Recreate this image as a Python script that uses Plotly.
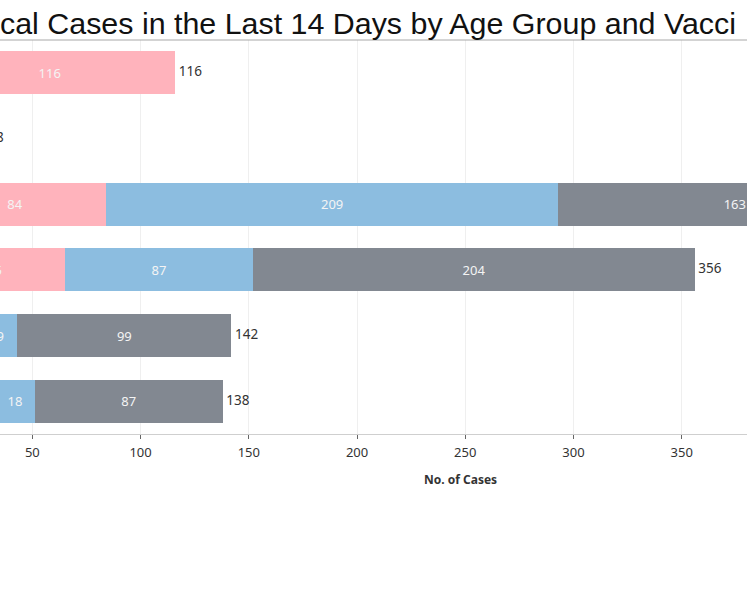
import plotly.graph_objects as go

categories = ["0-11", "12-19", "20-39", "40-59", "60-79", "80+"]
series_names = ["Unvaccinated", "Partially Vaccinated", "Fully Vaccinated"]
unvaccinated = [116, 28, 84, 65, 24, 33]
partially = [0, 0, 209, 87, 19, 18]
fully = [0, 0, 163, 204, 99, 87]
x_ticks = [0, 50, 100, 150, 200, 250, 300, 350, 400, 450]
title_text = "cal Cases in the Last 14 Days by Age Group and Vacci"
x_title = "No. of Cases"

colors = ["#FFB3BC", "#8CBDE0", "#828891"]
totals = [a + b + c for a, b, c in zip(unvaccinated, partially, fully)]

fig = go.Figure()
for name, vals, col in zip(series_names, [unvaccinated, partially, fully], colors):
    fig.add_trace(go.Bar(
        y=categories, x=vals, name=name, orientation="h",
        marker=dict(color=col, line=dict(width=0)),
        text=[str(v) if v > 0 else "" for v in vals],
        textposition="inside", insidetextanchor="middle", textangle=0,
        constraintext="none",
        textfont=dict(color="#F4F4F4", size=13, family="Noto Sans"),
        width=0.655, hoverinfo="skip",
    ))

fig.add_trace(go.Scatter(
    y=categories, x=totals, mode="text",
    text=["\u00a0" + str(t) for t in totals], textposition="middle right",
    textfont=dict(color="#333333", size=13.5, family="Noto Sans"),
    showlegend=False, hoverinfo="skip", cliponaxis=True,
))

fig.update_layout(
    width=747, height=598,
    margin=dict(l=0, r=0, t=40, b=164),
    barmode="stack", bargap=0.345,
    showlegend=False,
    plot_bgcolor="white", paper_bgcolor="white",
    xaxis=dict(
        range=[35.06, 380.14], tickvals=x_ticks,
        showgrid=True, gridcolor="#EFEFEF", gridwidth=1,
        zeroline=False, showline=True, linecolor="#CFCFCF", linewidth=1,
        ticks="outside", ticklen=4, tickcolor="#666666", tickwidth=1,
        tickfont=dict(size=13, color="#333333", family="Noto Sans"),
        ticklabelstandoff=2,
    ),
    yaxis=dict(
        categoryorder="array", categoryarray=categories,
        range=[5.5, -0.5], showticklabels=False, showgrid=False,
        zeroline=False, showline=False, ticks="",
    ),
    shapes=[dict(type="line", xref="paper", yref="paper", x0=0, x1=1, y0=1, y1=1,
                 line=dict(color="#A8A8A8", width=1))],
    annotations=[
        dict(text=title_text, xref="paper", yref="paper", x=-1.5 / 747, y=1 + 17 / 394,
             xanchor="left", yanchor="middle", showarrow=False, borderpad=0,
             font=dict(family="Liberation Sans", size=30.4, color="#111111")),
        dict(text="<b>" + x_title + "</b>", xref="paper", yref="paper",
             x=460.5 / 747, y=-45 / 394, xanchor="center", yanchor="middle",
             showarrow=False, font=dict(family="Noto Sans", size=12, color="#333333")),
    ],
)

fig.write_html("out.html", config={"displayModeBar": False},
               post_script="document.body.style.margin='0px';")
